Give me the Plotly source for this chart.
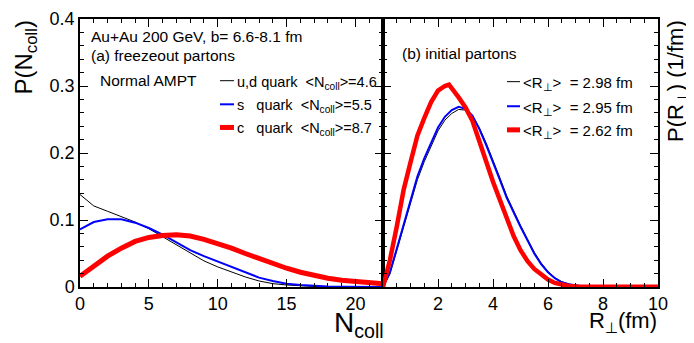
import plotly.graph_objects as go

# ---------------- data ----------------
ncoll = list(range(0, 23))
p_ud = [0.138, 0.121, 0.113, 0.105, 0.097, 0.087, 0.075, 0.062, 0.050, 0.039, 0.030, 0.022,
        0.015, 0.009, 0.005, 0.003, 0.0015, 0.0008, 0.0004, 0.0002, 0.0001, 0.0001, 0.0]
p_s = [0.086, 0.097, 0.101, 0.101, 0.096, 0.088, 0.078, 0.066, 0.055, 0.046, 0.038, 0.029,
       0.021, 0.014, 0.009, 0.005, 0.003, 0.0015, 0.0008, 0.0004, 0.0002, 0.0001, 0.0001]
p_c = [0.016, 0.031, 0.046, 0.058, 0.068, 0.074, 0.077, 0.078, 0.076, 0.071, 0.065, 0.058,
       0.050, 0.042, 0.035, 0.028, 0.022, 0.017, 0.013, 0.010, 0.008, 0.006, 0.005]

rperp = [0.0, 0.25, 0.5, 0.75, 1.0, 1.25, 1.5, 1.75, 2.0, 2.25, 2.4, 2.5, 2.75, 3.0, 3.25, 3.5,
         3.75, 4.0, 4.25, 4.5, 4.75, 5.0, 5.25, 5.5, 5.75, 6.0, 6.25, 6.5, 6.75, 7.0, 7.25,
         7.5, 8.0, 9.0, 10.0]
pr_ud = [0.0, 0.019, 0.054, 0.090, 0.126, 0.160, 0.187, 0.211, 0.233, 0.249, 0.255, 0.259, 0.265,
         0.264, 0.256, 0.238, 0.215, 0.190, 0.163, 0.136, 0.113, 0.092, 0.072, 0.052, 0.036,
         0.023, 0.014, 0.008, 0.0045, 0.0025, 0.0012, 0.0006, 0.0002, 0.0002, 0.0002]
pr_s = [0.0, 0.022, 0.057, 0.093, 0.130, 0.165, 0.192, 0.216, 0.238, 0.254, 0.260, 0.264, 0.269,
        0.266, 0.256, 0.236, 0.212, 0.187, 0.160, 0.133, 0.111, 0.090, 0.070, 0.050, 0.034,
        0.022, 0.013, 0.007, 0.004, 0.002, 0.001, 0.0005, 0.0002, 0.0002, 0.0002]
pr_c = [0.0, 0.040, 0.090, 0.145, 0.186, 0.226, 0.252, 0.276, 0.293, 0.300, 0.302, 0.297, 0.283,
        0.268, 0.248, 0.218, 0.186, 0.157, 0.130, 0.101, 0.076, 0.055, 0.039, 0.027, 0.018,
        0.011, 0.006, 0.003, 0.0015, 0.0007, 0.0004, 0.0003, 0.0003, 0.0003, 0.0003]

xticks_left = [0, 5, 10, 15, 20]
xticks_right = [2, 4, 6, 8, 10]
yticks = [0, 0.1, 0.2, 0.3, 0.4]
ytick_text = ["0", "0.1", "0.2", "0.3", "0.4"]

left_labels = ["u,d quark  &lt;N<sub>coll</sub>&gt;=4.6",
               "s   quark  &lt;N<sub>coll</sub>&gt;=5.5",
               "c   quark  &lt;N<sub>coll</sub>&gt;=8.7"]
right_labels = ["&lt;R<sub>⊥</sub>&gt;  = 2.98 fm",
                "&lt;R<sub>⊥</sub>&gt;  = 2.95 fm",
                "&lt;R<sub>⊥</sub>&gt;  = 2.62 fm"]
colors = ["black", "#0000ff", "#ff0000"]
widths = [1, 2, 5]

# ---------------- figure ----------------
# the page body has an 8px margin, so the figure is drawn 8px in from the corner
OFF = 8
W, H = 694 - OFF, 343 - OFF
X0, X1, Y0, Y1 = 80, 658, 9, 287          # plot area in window pixels
ML, MR, MT, MB = X0 - OFF, W - (X1 - OFF), Y0 - OFF, H - (Y1 - OFF)
PW, PH = X1 - X0, Y1 - Y0
split = (383 - X0) / PW


def px(x):
    return (x - X0) / PW


def py(y):
    return (Y1 - y) / PH


FONT = "Liberation Sans, Arial, sans-serif"

fig = go.Figure()
for ys, c, w in zip([p_ud, p_s, p_c], colors, widths):
    fig.add_trace(go.Scatter(x=ncoll, y=ys, mode="lines", line=dict(color=c, width=w),
                             xaxis="x", yaxis="y", showlegend=False, hoverinfo="skip"))
for ys, c, w in zip([pr_ud, pr_s, pr_c], colors, [1, 2, 4.5]):
    fig.add_trace(go.Scatter(x=rperp, y=ys, mode="lines", line=dict(color=c, width=w),
                             xaxis="x2", yaxis="y2", showlegend=False, hoverinfo="skip"))

axis_common = dict(showline=True, linecolor="black", linewidth=1.5, mirror="ticks",
                   ticks="inside", ticklen=8, tickwidth=1, tickcolor="black",
                   showgrid=False, zeroline=False, ticklabeloverflow="allow",
                   tickfont=dict(family=FONT, size=18, color="black"))

fig.update_layout(
    width=W, height=H,
    margin=dict(l=ML, r=MR, t=MT, b=MB),
    paper_bgcolor="white", plot_bgcolor="white",
    font=dict(family=FONT, color="black"),
    xaxis=dict(domain=[0, split], range=[0, 22], tickvals=xticks_left, anchor="y",
               minor=dict(dtick=1, ticks="inside", ticklen=4, tickcolor="black"), **axis_common),
    xaxis2=dict(domain=[split, 1], range=[0, 10], tickvals=xticks_right, anchor="y2",
                minor=dict(dtick=0.5, ticks="inside", ticklen=4, tickcolor="black"), **axis_common),
    yaxis=dict(range=[0, 0.4], tickvals=yticks, ticktext=ytick_text, anchor="x",
               minor=dict(dtick=0.02, ticks="inside", ticklen=4, tickcolor="black"), **axis_common),
    yaxis2=dict(range=[0, 0.4], tickvals=yticks, anchor="x2", showticklabels=False,
                minor=dict(dtick=0.02, ticks="inside", ticklen=4, tickcolor="black"), **axis_common),
)

ann = []
shapes = []


def text(x, y, s, size, xanchor="left", yanchor="middle", angle=0):
    ann.append(dict(x=px(x), y=py(y), xref="paper", yref="paper", text=s, showarrow=False,
                    xanchor=xanchor, yanchor=yanchor, textangle=angle,
                    font=dict(family=FONT, size=size, color="black")))


text(89, 27, "Au+Au 200 GeV, b= 6.6-8.1 fm", 15.5)
text(89, 47, "(a) freezeout partons", 15.5)
text(98, 73, "Normal AMPT", 15.5)
text(400, 45, "(b) initial partons", 15.5)

left_rows = [73, 97.5, 121.5]
for lab, c, w, yy in zip(left_labels, colors, widths, left_rows):
    shapes.append(dict(type="line", xref="paper", yref="paper", x0=px(220), x1=px(234),
                       y0=py(yy), y1=py(yy), line=dict(color=c, width=w)))
    text(235, yy + 2, lab, 14.5)

right_rows = [74, 99.5, 124]
for lab, c, w, yy in zip(right_labels, colors, widths, right_rows):
    shapes.append(dict(type="line", xref="paper", yref="paper", x0=px(507), x1=px(520),
                       y0=py(yy), y1=py(yy), line=dict(color=c, width=w)))
    text(521, yy + 2, lab, 15)

# axis titles
text(386, 326, "N<sub>coll</sub>", 28, xanchor="right")
text(659, 323, "R<sub>⊥</sub>(fm)", 22, xanchor="right")
text(26, 8, "P(N<sub>coll</sub>)", 24, xanchor="center", yanchor="top", angle=-90)
text(677, 8, "P(R<sub>⊥</sub>) (1/fm)", 22, xanchor="center", yanchor="top", angle=-90)

fig.update_layout(annotations=ann, shapes=shapes)
fig.write_html("out.html")
